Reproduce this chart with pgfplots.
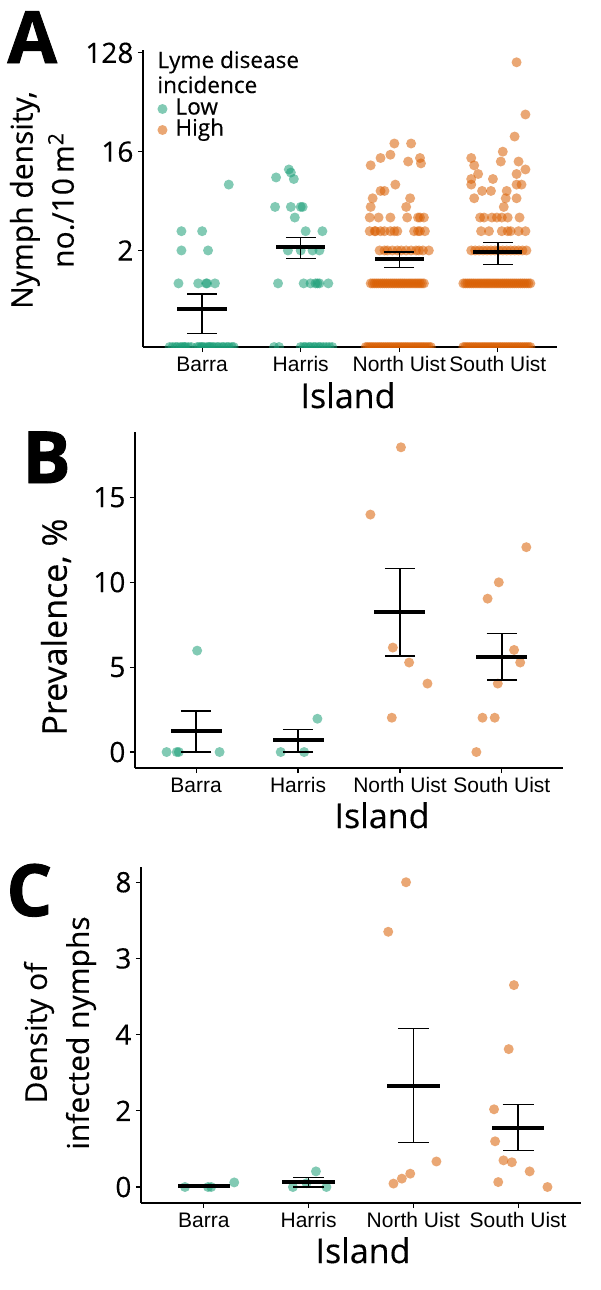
\documentclass[border=0pt]{standalone}
\usepackage{pgfplots}
\pgfplotsset{compat=1.18}
\usepackage{fontspec}
\setmainfont{Open Sans}[UprightFeatures={FakeBold=0.3}]
\newfontfamily\arialf{Liberation Sans}
\newfontfamily\heavyf{Open Sans}[BoldFeatures={FakeBold=1.2}]
\definecolor{lowc}{RGB}{27,158,119}
\definecolor{highc}{RGB}{217,95,2}
\pgfplotsset{
  panel/.style={scale only axis, xmin=0.4, xmax=4.6, xtick={1,2,3,4},
    xticklabels={Barra,Harris,North Uist,South Uist},
    axis x line*=bottom, axis y line*=left, tick align=outside,
    major tick length=2.6pt, axis line style={line width=0.6pt, black},
    tick style={line width=0.6pt, black},
    x tick label style={font=\arialf\fontsize{10.5}{12}\selectfont, inner sep=2pt},
    y tick label style={font=\fontsize{14}{16}\selectfont, inner sep=2pt},
    clip marker paths=true},
  low/.style={only marks, mark=*, mark size=2.5pt,
    mark options={fill=lowc, draw=lowc, draw opacity=0, fill opacity=0.55}},
  high/.style={only marks, mark=*, mark size=2.5pt,
    mark options={fill=highc, draw=highc, draw opacity=0, fill opacity=0.55}},
  errb/.style={draw=none, mark=none, forget plot,
    error bars/.cd, y dir=both, y explicit, error mark=|,
    error mark options={draw=black, line width=0.7pt, mark size=#1},
    error bar style={draw=black, line width=0.7pt}},
  meanb/.style={draw=none, mark=none, forget plot,
    error bars/.cd, x dir=both, x fixed=0.25, error mark=none,
    error bar style={draw=black, line width=2pt}},
}
\begin{document}
\begin{tikzpicture}
\path[use as bounding box] (0,0) rectangle (300pt,-645pt);
% ================= Panel A =================
\begin{axis}[panel, at={(71.5pt,-173.5pt)}, anchor=south west,
  width=207pt, height=148.5pt,
  ymode=log, log basis y=2, ymin=0.262, ymax=136,
  ytick={2,16,128}, yticklabels={2,16,128},
  legend style={at={(axis description cs:0.034,0.766)}, anchor=west,
    draw=none, fill=none, inner sep=0pt, column sep=4pt, row sep=0pt,
    font=\fontsize{11.3}{12}\selectfont,
    nodes={inner sep=0pt, text height=8pt, text depth=2.5pt}},
  legend cell align=left,
  legend image code/.code={\draw[#1] plot coordinates {(0pt,0pt)}; \path (0pt,-4.5pt);}]
\addplot[low, forget plot] table[row sep=\\] {x y\\
1.27 8\\ 0.79 3\\ 1.00 3\\ 0.79 2\\ 1.06 2\\ 0.76 1\\ 0.96 1\\ 1.04 1\\ 1.05 1\\ 1.13 1\\
0.67 0.262\\ 0.70 0.262\\ 0.73 0.262\\ 0.75 0.262\\ 0.78 0.262\\ 0.80 0.262\\ 0.83 0.262\\
0.86 0.262\\ 0.89 0.262\\ 0.95 0.262\\ 0.97 0.262\\ 1.00 0.262\\ 1.02 0.262\\ 1.05 0.262\\
1.07 0.262\\ 1.10 0.262\\ 1.12 0.262\\ 1.15 0.262\\ 1.17 0.262\\ 1.20 0.262\\ 1.22 0.262\\
1.25 0.262\\ 1.27 0.262\\ 1.30 0.262\\ 1.32 0.262\\ 0.82 0.262\\ 1.08 0.262\\ 0.99 0.262\\
};
\addplot[low, forget plot] table[row sep=\\] {x y\\
1.88 11\\ 1.90 10.3\\ 1.75 9.3\\ 1.93 9\\ 1.74 5\\ 1.90 5\\ 2.00 5\\ 2.02 5\\ 1.94 4\\
2.05 3\\ 2.22 3\\ 1.87 2\\ 2.00 2\\ 2.12 2\\ 2.19 2\\ 1.77 1\\ 2.03 1\\ 2.10 1\\ 2.15 1\\
2.17 1\\ 2.19 1\\ 2.28 1\\
1.73 0.262\\ 1.78 0.262\\ 2.00 0.262\\ 2.03 0.262\\ 2.05 0.262\\ 2.08 0.262\\ 2.10 0.262\\
2.13 0.262\\ 2.15 0.262\\ 2.18 0.262\\ 2.20 0.262\\ 2.23 0.262\\ 2.26 0.262\\ 2.29 0.262\\
2.32 0.262\\
};
\addplot[high, forget plot] table[row sep=\\] {x y\\
2.95 19\\ 3.12 19\\ 2.81 14\\ 2.91 15\\ 3.09 13\\ 3.21 14\\ 3.22 12.5\\ 2.71 12\\ 2.96 8\\
2.81 7\\ 2.85 7\\ 2.73 6\\ 3.11 6\\ 2.71 5\\ 3.07 5\\
2.70 4\\ 2.79 4\\ 2.91 4\\ 3.08 4\\ 3.19 4\\ 3.21 4\\ 3.25 4\\
2.70 3\\ 2.75 3\\ 2.76 3\\ 2.81 3\\ 2.85 3\\ 2.91 3\\ 2.95 3\\ 2.98 3\\ 3.15 3\\ 3.19 3\\
3.21 3\\ 3.26 3\\
2.80 2\\ 2.85 2\\ 2.88 2\\ 2.93 2\\ 2.98 2\\ 3.02 2\\ 3.07 2\\ 3.12 2\\ 3.17 2\\ 3.20 2\\
3.24 2\\ 3.30 2\\
2.71 1\\ 2.73 1\\ 2.75 1\\ 2.77 1\\ 2.79 1\\ 2.81 1\\ 2.83 1\\ 2.85 1\\ 2.87 1\\ 2.89 1\\
2.91 1\\ 2.93 1\\ 2.95 1\\ 2.97 1\\ 2.99 1\\ 3.01 1\\ 3.03 1\\ 3.05 1\\ 3.07 1\\ 3.09 1\\
3.11 1\\ 3.13 1\\ 3.15 1\\ 3.17 1\\ 3.19 1\\ 3.21 1\\ 3.23 1\\ 3.25 1\\
2.66 0.262\\ 2.68 0.262\\ 2.70 0.262\\ 2.72 0.262\\ 2.74 0.262\\ 2.76 0.262\\ 2.78 0.262\\
2.80 0.262\\ 2.82 0.262\\ 2.84 0.262\\ 2.86 0.262\\ 2.88 0.262\\ 2.90 0.262\\ 2.92 0.262\\
2.94 0.262\\ 2.96 0.262\\ 2.98 0.262\\ 3.00 0.262\\ 3.02 0.262\\ 3.04 0.262\\ 3.06 0.262\\
3.08 0.262\\ 3.10 0.262\\ 3.12 0.262\\ 3.14 0.262\\ 3.16 0.262\\ 3.18 0.262\\ 3.20 0.262\\
3.22 0.262\\ 3.24 0.262\\ 3.26 0.262\\ 3.28 0.262\\ 3.30 0.262\\ 3.32 0.262\\
};
\addplot[high, forget plot] table[row sep=\\] {x y\\
4.19 105\\ 4.28 35\\ 4.17 22\\ 4.05 16\\ 4.03 13\\ 3.73 14\\ 3.76 12\\ 4.21 13\\ 4.28 11\\
3.80 10\\ 3.73 9\\ 3.73 8\\ 3.95 9\\ 4.19 10\\ 4.19 8\\ 4.24 8\\ 3.76 6\\ 3.84 7\\ 3.93 7\\
4.09 7\\ 4.08 6\\ 4.19 6\\ 4.06 5\\
3.82 4\\ 3.86 4\\ 3.94 4\\ 3.99 4\\ 4.04 4\\ 4.10 4\\ 4.22 4\\
3.83 3\\ 3.91 3\\ 4.04 3\\ 4.10 3\\ 4.13 3\\ 4.21 3\\ 4.28 3\\
3.73 2\\ 3.77 2\\ 3.81 2\\ 3.85 2\\ 3.89 2\\ 3.93 2\\ 3.97 2\\ 4.01 2\\ 4.05 2\\ 4.09 2\\
4.13 2\\ 4.17 2\\ 4.21 2\\ 4.25 2\\ 4.29 2\\
3.65 1\\ 3.67 1\\ 3.69 1\\ 3.71 1\\ 3.73 1\\ 3.75 1\\ 3.77 1\\ 3.79 1\\ 3.81 1\\ 3.83 1\\
3.85 1\\ 3.87 1\\ 3.89 1\\ 3.91 1\\ 3.93 1\\ 3.95 1\\ 3.97 1\\ 3.99 1\\ 4.01 1\\ 4.03 1\\
4.05 1\\ 4.07 1\\ 4.09 1\\ 4.11 1\\ 4.13 1\\ 4.15 1\\ 4.17 1\\ 4.19 1\\ 4.21 1\\ 4.23 1\\
4.25 1\\ 4.27 1\\ 4.29 1\\ 4.31 1\\ 4.33 1\\
3.65 0.262\\ 3.67 0.262\\ 3.69 0.262\\ 3.71 0.262\\ 3.73 0.262\\ 3.75 0.262\\ 3.77 0.262\\
3.79 0.262\\ 3.81 0.262\\ 3.83 0.262\\ 3.85 0.262\\ 3.87 0.262\\ 3.89 0.262\\ 3.91 0.262\\
3.93 0.262\\ 3.95 0.262\\ 3.97 0.262\\ 3.99 0.262\\ 4.01 0.262\\ 4.03 0.262\\ 4.05 0.262\\
4.07 0.262\\ 4.09 0.262\\ 4.11 0.262\\ 4.13 0.262\\ 4.15 0.262\\ 4.17 0.262\\ 4.19 0.262\\
4.21 0.262\\ 4.23 0.262\\ 4.25 0.262\\ 4.27 0.262\\ 4.29 0.262\\ 4.31 0.262\\ 4.33 0.262\\
};
\addplot[errb=7.4pt] table[row sep=\\, x=x, y=y, y error plus=ep, y error minus=em] {x y ep em\\
1 0.58 0.22 0.23\\ 2 2.15 0.47 0.47\\ 3 1.66 0.28 0.27\\ 4 1.94 0.43 0.45\\};
\addplot[meanb] table[row sep=\\] {x y\\ 1 0.58\\ 2 2.15\\ 3 1.66\\ 4 1.94\\};
\addlegendimage{low}\addlegendentry{Low}
\addlegendimage{high}\addlegendentry{High}
\end{axis}
% ================= Panel B =================
\begin{axis}[panel, at={(67.5pt,-384pt)}, anchor=south west,
  width=214pt, height=168pt, ymin=-0.94, ymax=18.84,
  ytick={0,5,10,15}, yticklabels={0,5,10,15}]
\addplot[low] table[row sep=\\] {x y\\
0.71 0\\ 0.81 0\\ 0.83 0\\ 1.23 0\\ 1.01 5.97\\ 1.83 0\\ 2.06 0\\ 2.19 1.96\\};
\addplot[high] table[row sep=\\] {x y\\
3.01 17.94\\ 2.71 13.98\\ 2.93 6.15\\ 3.09 5.27\\ 3.27 4.03\\ 2.92 2.02\\
4.24 12.06\\ 3.97 9.99\\ 3.86 9.03\\ 4.12 6.01\\ 4.18 5.27\\ 3.96 4.03\\ 3.81 2.02\\
3.93 2.02\\ 3.75 0\\};
\addplot[errb=7.6pt] table[row sep=\\, x=x, y=y, y error plus=ep, y error minus=em] {x y ep em\\
1 1.21 1.20 1.21\\ 2 0.69 0.64 0.69\\ 3 8.22 2.59 2.56\\ 4 5.58 1.39 1.33\\};
\addplot[meanb] table[row sep=\\] {x y\\ 1 1.21\\ 2 0.69\\ 3 8.22\\ 4 5.58\\};
\end{axis}
% ================= Panel C =================
\begin{axis}[panel, at={(70.5pt,-601.5pt)}, anchor=south west,
  width=220pt, height=168pt, ymin=-0.42, ymax=8.40,
  ytick={0,2,4,6,8}, yticklabels={0,2,4,3,8}]
\addplot[low] table[row sep=\\] {x y\\
0.82 0\\ 1.04 0\\ 1.07 0\\ 1.29 0.12\\ 1.85 0\\ 2.17 0\\ 2.07 0.41\\ 1.98 0.10\\};
\addplot[high] table[row sep=\\] {x y\\
2.93 8.0\\ 2.76 6.7\\ 3.22 0.67\\ 2.97 0.35\\ 2.89 0.22\\ 2.81 0.09\\
3.96 5.3\\ 3.91 3.62\\ 3.77 2.04\\ 3.78 1.2\\ 3.86 0.70\\ 3.94 0.65\\ 4.11 0.41\\
3.81 0.13\\ 4.28 0.0\\};
\addplot[errb=7.8pt] table[row sep=\\, x=x, y=y, y error plus=ep, y error minus=em] {x y ep em\\
1 0.02 0.02 0.02\\ 2 0.13 0.12 0.13\\ 3 2.65 1.51 1.48\\ 4 1.56 0.60 0.60\\};
\addplot[meanb] table[row sep=\\] {x y\\ 1 0.02\\ 2 0.13\\ 3 2.65\\ 4 1.56\\};
\end{axis}
% ================= Texts =================
\node[anchor=base west, font=\heavyf\bfseries\fontsize{36}{40}\selectfont, inner sep=0pt] at (3.5pt,-31.5pt) {A};
\node[anchor=base west, font=\heavyf\bfseries\fontsize{36}{40}\selectfont, inner sep=0pt] at (11pt,-241.5pt) {B};
\node[anchor=base west, font=\heavyf\bfseries\fontsize{36}{40}\selectfont, inner sep=0pt] at (3pt,-458pt) {C};
\node[anchor=base west, align=left, font=\fontsize{11.3}{12.5}\selectfont, inner sep=0pt] at (78.5pt,-34pt) {Lyme disease};
\node[anchor=base west, align=left, font=\fontsize{11.3}{12.5}\selectfont, inner sep=0pt] at (78.5pt,-46.5pt) {incidence};
\node[rotate=90, align=center, font=\fontsize{15}{20.5}\selectfont, inner sep=0pt] at (21pt,-100pt) {Nymph density,\\no./10\,m\textsuperscript{2}};
\node[rotate=90, font=\fontsize{17}{20}\selectfont, inner sep=0pt] at (28pt,-313.5pt) {Prevalence, \%};
\node[rotate=90, align=center, font=\fontsize{15}{21}\selectfont, inner sep=0pt] at (30pt,-516.5pt) {Density of\\infected nymphs};
\node[anchor=base, font=\fontsize{17}{20}\selectfont, inner sep=0pt] at (174pt,-204pt) {Island};
\node[anchor=base, font=\fontsize{17}{20}\selectfont, inner sep=0pt] at (191pt,-414pt) {Island};
\node[anchor=base, font=\fontsize{17}{20}\selectfont, inner sep=0pt] at (181.5pt,-631.5pt) {Island};
\end{tikzpicture}
\end{document}
